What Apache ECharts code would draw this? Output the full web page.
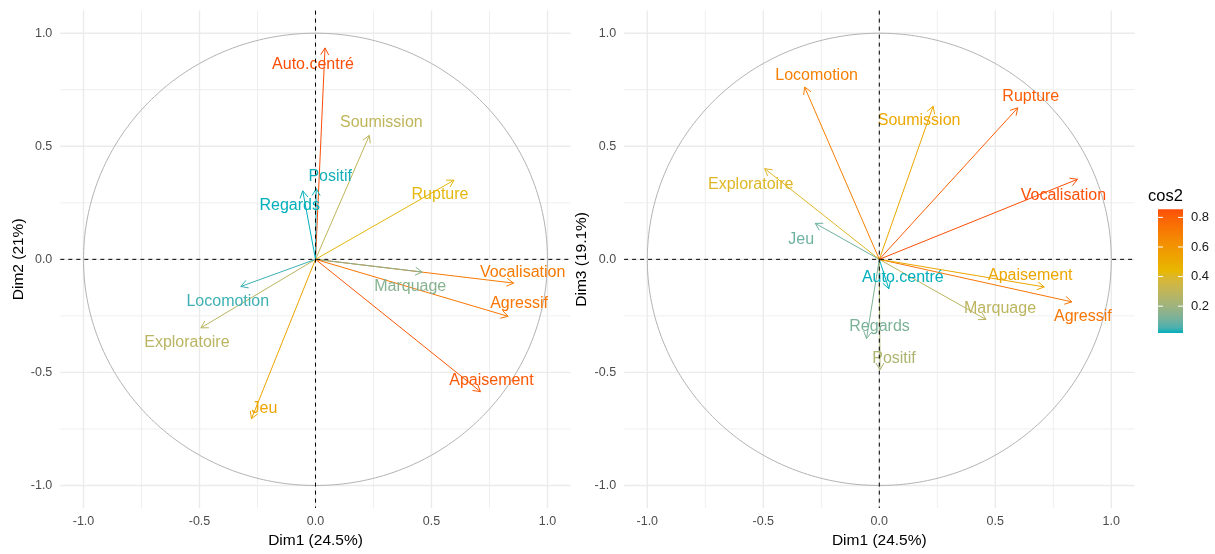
<!DOCTYPE html>
<html>
<head>
<meta charset="utf-8">
<script src="https://cdn.jsdelivr.net/npm/echarts@6/dist/echarts.min.js"></script>
<style>
  html, body { margin: 0; padding: 0; background: #ffffff; }
  #chart { width: 1215px; height: 554px; }
</style>
</head>
<body>
<div id="chart"></div>
<script>
// Variable coordinates on the first three principal dimensions
const variables = ['Auto.centré', 'Soumission', 'Positif', 'Regards', 'Rupture', 'Vocalisation',
                   'Marquage', 'Agressif', 'Apaisement', 'Jeu', 'Exploratoire', 'Locomotion'];
const dim1 = [0.041, 0.232, 0.003, -0.055, 0.597, 0.854, 0.460, 0.830, 0.711, -0.276, -0.494, -0.322];
const dim2 = [0.935, 0.548, 0.313, 0.303, 0.350, -0.105, -0.056, -0.252, -0.585, -0.705, -0.303, -0.120];
const dim3 = [-0.130, 0.677, -0.489, -0.350, 0.670, 0.354, -0.266, -0.188, -0.122, 0.159, 0.401, 0.762];

const majorTicks = [-1, -0.5, 0, 0.5, 1];
const minorTicks = [-0.75, -0.25, 0.25, 0.75];
const legendTicks = [0.2, 0.4, 0.6, 0.8];
const xTitle = 'Dim1 (24.5%)';
const yTitles = ['Dim2 (21%)', 'Dim3 (19.1%)'];
const legendTitle = 'cos2';

// Label placement (pixel nudges away from the arrow tips, to avoid overlaps)
const labelNudge = [
  { 'Auto.centré': [-12, 17], 'Soumission': [12, -13], 'Positif': [14, -12], 'Regards': [-13, 15],
    'Rupture': [-14, 14], 'Vocalisation': [9, -11], 'Marquage': [-12, 15], 'Agressif': [11, -13],
    'Apaisement': [11, -11], 'Jeu': [13, -10], 'Exploratoire': [-14, 15], 'Locomotion': [-13, 15] },
  { 'Auto.centré': [14, -11], 'Soumission': [-14, 14], 'Positif': [14, -11], 'Regards': [13, -12],
    'Rupture': [13, -11], 'Vocalisation': [-14, 16], 'Marquage': [14, -11], 'Agressif': [11, 15],
    'Apaisement': [-14, -11], 'Jeu': [-14, 16], 'Exploratoire': [-14, 16], 'Locomotion': [12, -11] }
];

const FONT = '"Liberation Sans", Arial, sans-serif';
const gradientCols = ['#00AFBB', '#E7B800', '#FC4E07'];

// ---- colour ramp interpolated in CIE Lab ----
function hex2rgb(h) { return [1, 3, 5].map(i => parseInt(h.substr(i, 2), 16)); }
function lin(c) { c /= 255; return c <= 0.04045 ? c / 12.92 : Math.pow((c + 0.055) / 1.055, 2.4); }
function delin(c) {
  const v = c <= 0.0031308 ? 12.92 * c : 1.055 * Math.pow(c, 1 / 2.4) - 0.055;
  return Math.max(0, Math.min(255, Math.round(v * 255)));
}
const WP = [0.95047, 1, 1.08883];
function fLab(t) { return t > 0.008856 ? Math.cbrt(t) : 7.787 * t + 16 / 116; }
function fInv(t) { return t > 0.206893 ? t * t * t : (t - 16 / 116) / 7.787; }
function rgb2lab(rgb) {
  const [r, g, b] = rgb.map(lin);
  const X = (0.4124 * r + 0.3576 * g + 0.1805 * b) / WP[0];
  const Y = 0.2126 * r + 0.7152 * g + 0.0722 * b;
  const Z = (0.0193 * r + 0.1192 * g + 0.9505 * b) / WP[2];
  const fx = fLab(X), fy = fLab(Y), fz = fLab(Z);
  return [116 * fy - 16, 500 * (fx - fy), 200 * (fy - fz)];
}
function lab2rgb(lab) {
  const fy = (lab[0] + 16) / 116, fx = fy + lab[1] / 500, fz = fy - lab[2] / 200;
  const X = fInv(fx) * WP[0], Y = fInv(fy), Z = fInv(fz) * WP[2];
  const r = 3.2406 * X - 1.5372 * Y - 0.4986 * Z;
  const g = -0.9689 * X + 1.8758 * Y + 0.0415 * Z;
  const b = 0.0557 * X - 0.2040 * Y + 1.0570 * Z;
  return [r, g, b].map(delin);
}
const labStops = gradientCols.map(h => rgb2lab(hex2rgb(h)));
function ramp(t) {
  t = Math.max(0, Math.min(1, t));
  const seg = t * (labStops.length - 1);
  const i = Math.min(labStops.length - 2, Math.floor(seg));
  const u = seg - i;
  const a = labStops[i], b = labStops[i + 1];
  const rgb = lab2rgb([0, 1, 2].map(k => a[k] + (b[k] - a[k]) * u));
  return 'rgb(' + rgb.join(',') + ')';
}

// ---- per-panel data ----
const panels = [dim2, dim3].map((dimY, p) => {
  const cos2 = variables.map((_, i) => dim1[i] * dim1[i] + dimY[i] * dimY[i]);
  const lo = Math.min(...cos2), hi = Math.max(...cos2);
  const colors = cos2.map(c => ramp((c - lo) / (hi - lo)));
  const data = variables.map((name, i) => ({ name: name, value: [dim1[i], dimY[i], cos2[i], i] }));
  return { cos2, lo, hi, colors, data };
});

const chart = echarts.init(document.getElementById('chart'), null, { renderer: 'canvas' });

const grids = [
  { left: 60.3, top: 10.6, width: 510.4, height: 500 },
  { left: 624.1, top: 10.6, width: 510.4, height: 500 }
];

function makeXAxis(idx) {
  return {
    gridIndex: idx, type: 'value', min: -1.1, max: 1.1,
    splitLine: { show: false },
    axisLine: { show: false },
    axisTick: { show: true, customValues: majorTicks, length: 4, lineStyle: { color: '#333333', width: 1 } },
    axisLabel: { customValues: majorTicks, formatter: v => v.toFixed(1), color: '#4D4D4D',
                 fontSize: 12.5, fontFamily: FONT, margin: 7 },
    name: xTitle, nameLocation: 'middle', nameGap: 24,
    nameTextStyle: { color: '#000000', fontSize: 15.5, fontFamily: FONT }
  };
}
function makeYAxis(idx) {
  return {
    gridIndex: idx, type: 'value', min: -1.1, max: 1.1,
    splitLine: { show: false },
    axisLine: { show: false },
    axisTick: { show: true, customValues: majorTicks, length: 4, lineStyle: { color: '#333333', width: 1 } },
    axisLabel: { customValues: majorTicks, formatter: v => v.toFixed(1), color: '#4D4D4D',
                 fontSize: 12.5, fontFamily: FONT, margin: 8 },
    name: yTitles[idx], nameLocation: 'middle', nameGap: 34, nameRotate: 90,
    nameTextStyle: { color: '#000000', fontSize: 15.5, fontFamily: FONT }
  };
}

function gridSeries(idx, ticks, width, color) {
  return {
    type: 'custom', xAxisIndex: idx, yAxisIndex: idx, z: 1, silent: true,
    data: ticks.map(v => [v, v]),
    renderItem: (params, api) => {
      const cs = params.coordSys;
      const v = api.value(0);
      const px = api.coord([v, 0])[0];
      const py = api.coord([0, v])[1];
      return { type: 'group', children: [
        { type: 'line', shape: { x1: px, y1: cs.y, x2: px, y2: cs.y + cs.height },
          style: { stroke: color, lineWidth: width } },
        { type: 'line', shape: { x1: cs.x, y1: py, x2: cs.x + cs.width, y2: py },
          style: { stroke: color, lineWidth: width } }
      ] };
    }
  };
}

function circleSeries(idx) {
  return {
    type: 'custom', xAxisIndex: idx, yAxisIndex: idx, z: 2, silent: true,
    data: [[0, 0]],
    renderItem: (params, api) => {
      const pts = [];
      for (let k = 0; k <= 360; k++) {
        const t = k * Math.PI / 180;
        pts.push(api.coord([Math.cos(t), Math.sin(t)]));
      }
      return { type: 'polyline', shape: { points: pts },
               style: { stroke: '#B3B3B3', lineWidth: 1, fill: null } };
    }
  };
}

function arrowSeries(idx) {
  const P = panels[idx];
  return {
    type: 'custom', xAxisIndex: idx, yAxisIndex: idx, z: 3, silent: true,
    data: P.data,
    renderItem: (params, api) => {
      const o = api.coord([0, 0]);
      const p = api.coord([api.value(0), api.value(1)]);
      const color = P.colors[api.value(3)];
      const ang = Math.atan2(p[1] - o[1], p[0] - o[0]);
      const L = 8, a = Math.PI / 6;
      const h1 = [p[0] - L * Math.cos(ang - a), p[1] - L * Math.sin(ang - a)];
      const h2 = [p[0] - L * Math.cos(ang + a), p[1] - L * Math.sin(ang + a)];
      return { type: 'group', children: [
        { type: 'line', shape: { x1: o[0], y1: o[1], x2: p[0], y2: p[1] },
          style: { stroke: color, lineWidth: 1 } },
        { type: 'polyline', shape: { points: [h1, p, h2] },
          style: { stroke: color, lineWidth: 1, fill: null } }
      ] };
    }
  };
}

function labelSeries(idx) {
  const P = panels[idx];
  return {
    type: 'custom', xAxisIndex: idx, yAxisIndex: idx, z: 4, silent: true,
    data: P.data,
    renderItem: (params, api) => {
      const i = api.value(3);
      const p = api.coord([api.value(0), api.value(1)]);
      const nud = labelNudge[idx][variables[i]];
      return { type: 'text', x: p[0] + nud[0], y: p[1] + nud[1],
               style: { text: variables[i], fill: P.colors[i], fontSize: 16, fontFamily: FONT,
                        align: 'center', verticalAlign: 'middle' } };
    }
  };
}

function axesSeries(idx) {
  return {
    type: 'custom', xAxisIndex: idx, yAxisIndex: idx, z: 5, silent: true,
    data: [[0, 0]],
    renderItem: (params, api) => {
      const cs = params.coordSys;
      const o = api.coord([0, 0]);
      const st = { stroke: '#000000', lineWidth: 1, lineDash: [4, 4] };
      return { type: 'group', children: [
        { type: 'line', shape: { x1: cs.x, y1: o[1], x2: cs.x + cs.width, y2: o[1] }, style: st },
        { type: 'line', shape: { x1: o[0], y1: cs.y, x2: o[0], y2: cs.y + cs.height }, style: st }
      ] };
    }
  };
}

// ---- colour bar legend for the right panel ----
const bar = { x: 1158, y: 209.3, w: 25, h: 123.7 };
const RP = panels[1];
const stops = [];
for (let k = 0; k <= 24; k++) {
  stops.push({ offset: k / 24, color: ramp(1 - k / 24) });
}
const legendGraphics = [
  { type: 'text', left: 1148, top: 188,
    style: { text: legendTitle, fill: '#000000', fontSize: 16.5, fontFamily: FONT } },
  { type: 'rect', shape: { x: bar.x, y: bar.y, width: bar.w, height: bar.h },
    style: { fill: { type: 'linear', x: 0, y: 0, x2: 0, y2: 1, colorStops: stops } } }
];
legendTicks.forEach(v => {
  const ty = bar.y + bar.h - (v - RP.lo) / (RP.hi - RP.lo) * bar.h;
  legendGraphics.push(
    { type: 'line', shape: { x1: bar.x, y1: ty, x2: bar.x + 5, y2: ty }, style: { stroke: '#FFFFFF', lineWidth: 1 } },
    { type: 'line', shape: { x1: bar.x + bar.w - 5, y1: ty, x2: bar.x + bar.w, y2: ty }, style: { stroke: '#FFFFFF', lineWidth: 1 } },
    { type: 'text', x: bar.x + bar.w + 8, y: ty,
      style: { text: v.toFixed(1), fill: '#1A1A1A', fontSize: 13, fontFamily: FONT, verticalAlign: 'middle' } }
  );
});

const series = [];
[0, 1].forEach(idx => {
  series.push(gridSeries(idx, minorTicks, 1, '#EFEFEF'));
  series.push(gridSeries(idx, majorTicks, 1.4, '#EBEBEB'));
  series.push(circleSeries(idx));
  series.push(arrowSeries(idx));
  series.push(labelSeries(idx));
  series.push(axesSeries(idx));
});

chart.setOption({
  backgroundColor: '#FFFFFF',
  animation: false,
  grid: grids,
  xAxis: [makeXAxis(0), makeXAxis(1)],
  yAxis: [makeYAxis(0), makeYAxis(1)],
  graphic: legendGraphics,
  series: series
});
</script>
</body>
</html>
